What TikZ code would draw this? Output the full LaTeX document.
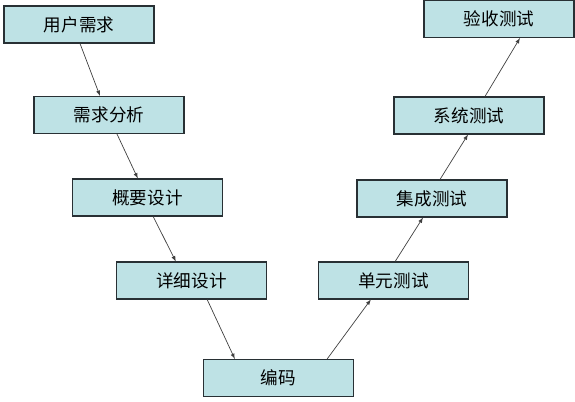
\documentclass[tikz,border=0pt]{standalone}
\usepackage{fontspec}
\newfontfamily\cjk{Noto Sans CJK SC}
\usetikzlibrary{arrows}
\definecolor{boxfill}{RGB}{190,226,229}
\definecolor{boxline}{RGB}{40,48,52}

\begin{document}
\begin{tikzpicture}
[x=0.03cm,y=-0.03cm,
every node/.style={font=\cjk\fontsize{15}{18}\selectfont},
stage/.style={rectangle,fill=boxfill,draw=boxline,line width=0.9pt,
  minimum width=4.5cm,minimum height=1.11cm,inner sep=0pt},
flow/.style={-latex,draw=black!75,line width=0.6pt}]
\useasboundingbox (0,0) rectangle (575,402);
\node[stage] (yh) at (79,24.5) {用户需求};
\node[stage] (xq) at (109,115) {需求分析};
\node[stage] (gy) at (147.5,197.5) {概要设计};
\node[stage] (xx) at (191.5,280.5) {详细设计};
\node[stage] (bm) at (278.5,378) {编码};
\node[stage] (dy) at (393.5,280.5) {单元测试};
\node[stage] (jc) at (432,198.5) {集成测试};
\node[stage] (xt) at (469,115.5) {系统测试};
\node[stage] (ys) at (499,19) {验收测试};
\draw[flow] ([xshift=0.03cm]yh.south) -- ([xshift=-0.27cm]xq.north);
\draw[flow] ([xshift=0.24cm]xq.south) -- ([xshift=-0.29cm]gy.north);
\draw[flow] ([xshift=0.17cm]gy.south) -- ([xshift=-0.47cm]xx.north);
\draw[flow] ([xshift=0.47cm]xx.south) -- ([xshift=-1.31cm]bm.north);
\draw[flow] ([xshift=1.46cm]bm.north) -- ([xshift=-0.68cm]dy.south);
\draw[flow] ([xshift=0.05cm]dy.north) -- ([xshift=-0.27cm]jc.south);
\draw[flow] ([xshift=0.24cm]jc.north) -- ([xshift=-0.03cm]xt.south);
\draw[flow] ([xshift=0.48cm]xt.north) -- ([xshift=0.63cm]ys.south);
\end{tikzpicture}
\end{document}
